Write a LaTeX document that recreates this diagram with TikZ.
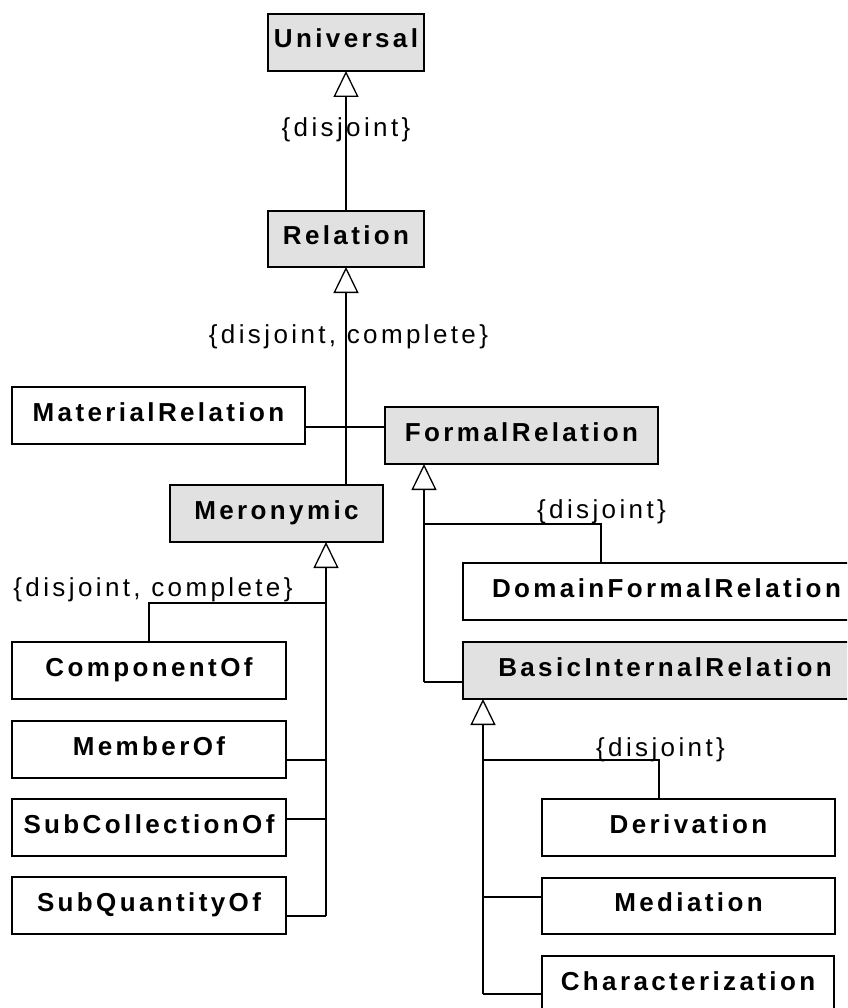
\documentclass[tikz,border=0pt]{standalone}
\usepackage{fontspec}
\usetikzlibrary{arrows.meta}
\newfontfamily\umlfont[LetterSpace=13]{Liberation Sans}
\definecolor{boxgray}{RGB}{225,225,225}
\tikzset{
  cls/.style={draw, line width=1.3pt, inner sep=0pt, outer sep=0pt,
    font=\umlfont\fontsize{26}{30}\selectfont\bfseries,
    text height=19pt, text depth=8pt, minimum height=57pt},
  abscls/.style={cls, fill=boxgray},
  link/.style={line width=1.3pt},
  gen/.style={link, -{Triangle[open, length=26pt, width=25pt, line width=1.3pt]}},
  constraint/.style={font=\umlfont\fontsize{26}{30}\selectfont, anchor=base, inner sep=0pt}
}
\begin{document}
\begin{tikzpicture}[x=1pt, y=-1pt]
\useasboundingbox (0,0) rectangle (847,1008);
\clip (0,0) rectangle (847,1008);

% classes
\node[abscls, minimum width=156pt] (univ) at (346,42.5) {Universal};
\node[abscls, minimum width=156pt, minimum height=56pt] (rel) at (346,239) {Relation};
\node[cls, minimum width=293pt] (mat) at (158.5,415.5) {MaterialRelation};
\node[abscls, minimum width=273pt] (fr) at (521.5,435.5) {FormalRelation};
\node[abscls, minimum width=213pt] (mer) at (276.5,513.5) {Meronymic};
\node[cls, minimum width=274pt] (comp) at (149,670.5) {ComponentOf};
\node[cls, minimum width=274pt] (mem) at (149,749.5) {MemberOf};
\node[cls, minimum width=274pt] (subc) at (149,827.5) {SubCollectionOf};
\node[cls, minimum width=274pt] (subq) at (149,905.5) {SubQuantityOf};
\node[cls, minimum width=407pt] (dfr) at (666.5,591.5) {DomainFormalRelation};
\node[abscls, minimum width=404pt] (bir) at (665,670.5) {BasicInternalRelation};
\node[cls, minimum width=293pt] (der) at (688.5,827.5) {Derivation};
\node[cls, minimum width=293pt, minimum height=56pt] (med) at (688.5,906) {Mediation};
\node[cls, minimum width=292pt] (chr) at (688,984.5) {Characterization};

% Relation -> Universal
\draw[gen] (rel.north) -- (univ.south);
\node[constraint] (c1) at (346,137) {\{disjoint\}};

% Meronymic -> Relation
\draw[gen] (mer.north -| rel.south) -- (rel.south);
\node[constraint] (c2) at (348.5,343) {\{disjoint, complete\}};

% MaterialRelation -- FormalRelation
\coordinate (mline) at (0,427);
\draw[link] (mat.east |- mline) -- (fr.west |- mline);

% parts of Meronymic
\coordinate (mbot) at (326,916);
\coordinate (mjoin) at (326,603);
\coordinate (m2) at (326,760);
\coordinate (m3) at (326,819);
\draw[gen] (mbot) -- (mer.south -| mbot);
\draw[link] (mjoin) -| (comp.north);
\draw[link] (m2) -- (m2 -| mem.east);
\draw[link] (m3) -- (m3 -| subc.east);
\draw[link] (mbot) -- (mbot -| subq.east);
\node[constraint] (c3) at (153,596) {\{disjoint, complete\}};

% kinds of FormalRelation
\coordinate (fbot) at (424,682);
\coordinate (fjoin) at (424,524);
\path (dfr.north) ++(-65.5,0) coordinate (fdrop);
\draw[gen] (fbot) -- (fr.south -| fbot);
\draw[link] (fbot) -- (fbot -| bir.west);
\draw[link] (fjoin) -| (fdrop);
\node[constraint] (c4) at (601.5,518) {\{disjoint\}};

% kinds of BasicInternalRelation
\coordinate (bbot) at (483,994);
\coordinate (bjoin) at (483,760);
\coordinate (b2) at (483,897);
\path (der.north) ++(-29.5,0) coordinate (bdrop);
\draw[gen] (bbot) -- (bir.south -| bbot);
\draw[link] (bbot) -- (bbot -| chr.west);
\draw[link] (b2) -- (b2 -| med.west);
\draw[link] (bjoin) -| (bdrop);
\node[constraint] (c5) at (660.5,756) {\{disjoint\}};
\end{tikzpicture}
\end{document}
